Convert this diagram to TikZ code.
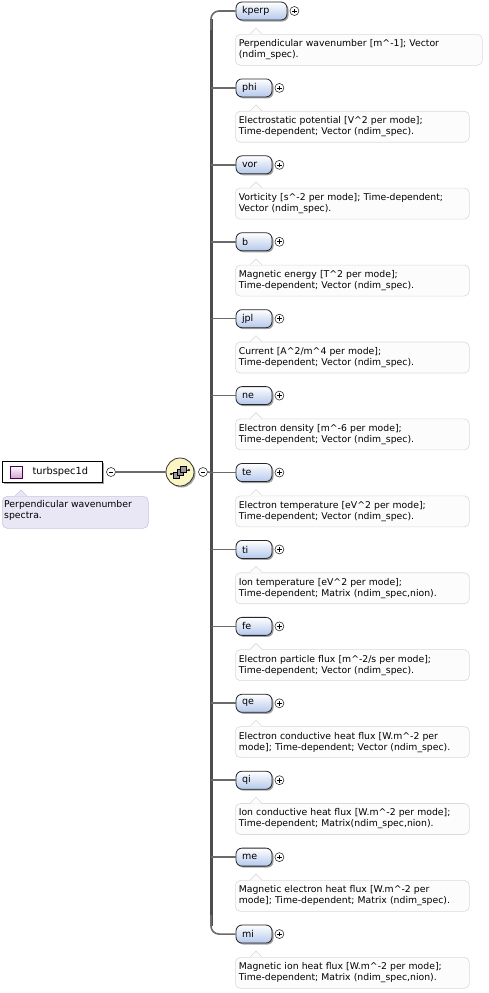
\documentclass[tikz,border=0pt]{standalone}
\usepackage{fontspec}
\setmainfont{DejaVu Sans}
\usetikzlibrary{shadows}
\definecolor{barcol}{HTML}{4D4D4D}
\definecolor{brcol}{HTML}{6A6A6A}
\definecolor{elbot}{HTML}{B4C8EC}
\definecolor{docfill}{HTML}{FCFCFC}
\definecolor{docline}{HTML}{DADADA}
\definecolor{rootdoc}{HTML}{E9E7F5}
\definecolor{rootdocline}{HTML}{C9C5E2}
\definecolor{seqfill}{HTML}{FAF6C4}
\newcommand\cf{\textasciicircum}
\tikzset{
  elem/.style={draw=black!85, line width=0.8pt, rounded corners=6pt, minimum height=18pt, inner ysep=0pt, inner xsep=6pt,
    align=left, top color=white, bottom color=elbot, font=\fontsize{9.5}{10}\selectfont,
    drop shadow={shadow xshift=1.5pt, shadow yshift=-1.5pt, fill=black!45, opacity=0.8}},
  pm/.style={circle, draw=black!80, line width=0.6pt, fill=white, minimum size=9pt, inner sep=0pt},
  branch/.style={draw=brcol, line width=1.6pt},
  doc/.style={draw=docline, fill=docfill, line width=0.6pt, rounded corners=5pt, minimum height=31pt,
    inner xsep=3.5pt, inner ysep=2pt, align=left, font=\fontsize{9.3}{11}\selectfont, anchor=north west},
}
\newcommand\elrow[7]{%
  \pgfmathsetmacro\cy{11+76.92*#2}
  \node[elem, text width=#4pt-12pt] (e#1) at (236+#4/2, \cy) {#3};
  \node[pm] (p#1) at ([xshift=7pt]e#1.east) {};
  \draw[line width=0.6pt] ([xshift=-2.3pt]p#1.center) -- ([xshift=2.3pt]p#1.center)
        ([yshift=-2.3pt]p#1.center) -- ([yshift=2.3pt]p#1.center);
  \node[doc, text width=#7-235-7pt] (d#1) at (235, \cy+23) {#5\\#6};
  \fill[docfill] ([xshift=15pt,yshift=-0.4pt]d#1.north west) -- ([xshift=21pt,yshift=6pt]d#1.north west)
        -- ([xshift=27pt,yshift=-0.4pt]d#1.north west) -- cycle;
  \draw[docline, line width=0.6pt] ([xshift=15pt]d#1.north west) -- ([xshift=21pt,yshift=6pt]d#1.north west)
        -- ([xshift=27pt]d#1.north west);
}
\begin{document}
\begin{tikzpicture}[x=1pt,y=-1pt]
\useasboundingbox (0,0) rectangle (489,993);
% vertical bar
\draw[barcol, line width=3pt] (211,19) -- (211,926);
% rows
\elrow{kperp}{0}{kperp}{51}{Perpendicular wavenumber [m\cf-1]; Vector}{(ndim\_spec).}{482}
\elrow{phi}{1}{phi}{36}{Electrostatic potential [V\cf2 per mode];}{Time-dependent; Vector (ndim\_spec).}{469}
\elrow{vor}{2}{vor}{36}{Vorticity [s\cf-2 per mode]; Time-dependent;}{Vector (ndim\_spec).}{469}
\elrow{b}{3}{b}{36}{Magnetic energy [T\cf2 per mode];}{Time-dependent; Vector (ndim\_spec).}{469}
\elrow{jpl}{4}{jpl}{36}{Current [A\cf2/m\cf4 per mode];}{Time-dependent; Vector (ndim\_spec).}{469}
\elrow{ne}{5}{ne}{36}{Electron density [m\cf-6 per mode];}{Time-dependent; Vector (ndim\_spec).}{469}
\elrow{te}{6}{te}{36}{Electron temperature [eV\cf2 per mode];}{Time-dependent; Vector (ndim\_spec).}{469}
\elrow{ti}{7}{ti}{36}{Ion temperature [eV\cf2 per mode];}{Time-dependent; Matrix (ndim\_spec,nion).}{469}
\elrow{fe}{8}{fe}{36}{Electron particle flux [m\cf-2/s per mode];}{Time-dependent; Vector (ndim\_spec).}{469}
\elrow{qe}{9}{qe}{36}{Electron conductive heat flux [W.m\cf-2 per}{mode]; Time-dependent; Vector (ndim\_spec).}{469}
\elrow{qi}{10}{qi}{36}{Ion conductive heat flux [W.m\cf-2 per mode];}{Time-dependent; Matrix(ndim\_spec,nion).}{469}
\elrow{me}{11}{me}{36}{Magnetic electron heat flux [W.m\cf-2 per}{mode]; Time-dependent; Matrix (ndim\_spec).}{469}
\elrow{mi}{12}{mi}{36}{Magnetic ion heat flux [W.m\cf-2 per mode];}{Time-dependent; Matrix (ndim\_spec,nion).}{469}
% branches
\draw[branch, rounded corners=8pt] (ekperp.west) -| (211,30);
\draw[branch, rounded corners=8pt] (emi.west) -| (211,915);
\foreach \n in {phi,vor,b,jpl,ne,te,ti,fe,qe,qi,me}{
  \coordinate (j\n) at (211, 0 |- e\n.west);
  \draw[branch] (j\n) -- (e\n.west);
}
% root element
\node[draw=black, line width=0.9pt, fill=white, minimum width=100pt, minimum height=21pt, inner sep=0pt,
      drop shadow={shadow xshift=1.5pt, shadow yshift=-1.5pt, fill=black!45, opacity=0.8}] (root) at (52,472) {};
\node[font=\fontsize{9.8}{10}\selectfont, anchor=west] (rootlbl) at (29,472) {turbspec1d};
\node[draw=violet!60!black, line width=0.5pt, minimum size=12pt, inner sep=0pt,
      top color=white, bottom color=violet!35] (rooticon) at (16,472) {};
\node[pm] (rootminus) at (111,472) {};
\draw[line width=0.6pt] ([xshift=-2.3pt]rootminus.center) -- ([xshift=2.3pt]rootminus.center);
\node[draw=rootdocline, fill=rootdoc, line width=0.6pt, rounded corners=5pt, minimum width=146pt, minimum height=32pt,
      anchor=north west, inner sep=0pt] (rootdocbox) at (2,496) {};
\fill[rootdoc] ([xshift=13pt,yshift=-0.4pt]rootdocbox.north west) -- ([xshift=19pt,yshift=6pt]rootdocbox.north west)
      -- ([xshift=25pt,yshift=-0.4pt]rootdocbox.north west) -- cycle;
\draw[rootdocline, line width=0.6pt] ([xshift=13pt]rootdocbox.north west) -- ([xshift=19pt,yshift=6pt]rootdocbox.north west)
      -- ([xshift=25pt]rootdocbox.north west);
\node[font=\fontsize{9.3}{11}\selectfont, align=left, anchor=north west, inner sep=0pt] (rootdoctext) at (4,500)
      {Perpendicular wavenumber\\spectra.};
% sequence compositor
\node[circle, draw=black!80, line width=0.8pt, fill=seqfill, minimum size=28pt, inner sep=0pt,
      drop shadow={shadow xshift=1.5pt, shadow yshift=-1.5pt, fill=black!45, opacity=0.8}] (seq) at (180,472) {};
\draw[line width=0.8pt] ([xshift=-9pt,yshift=-2pt]seq.center) -- ([xshift=9pt,yshift=2pt]seq.center);
\fill ([xshift=-9pt,yshift=-2pt]seq.center) circle (1.2pt);
\fill ([xshift=9pt,yshift=2pt]seq.center) circle (1.2pt);
\foreach \dx/\dy in {-3.5/-3, 0/0, 3.5/3}{
  \draw[fill=black!40, line width=0.5pt] ([xshift=\dx pt-3pt, yshift=\dy pt-3pt]seq.center) rectangle ([xshift=\dx pt+3pt, yshift=\dy pt+3pt]seq.center);
}
\node[pm] (seqminus) at (203,472) {};
\draw[line width=0.6pt] ([xshift=-2.3pt]seqminus.center) -- ([xshift=2.3pt]seqminus.center);
\draw[branch] (rootminus.east) -- (seq.west);
\draw[branch] (seqminus.east) -- (jte);
\end{tikzpicture}
\end{document}
